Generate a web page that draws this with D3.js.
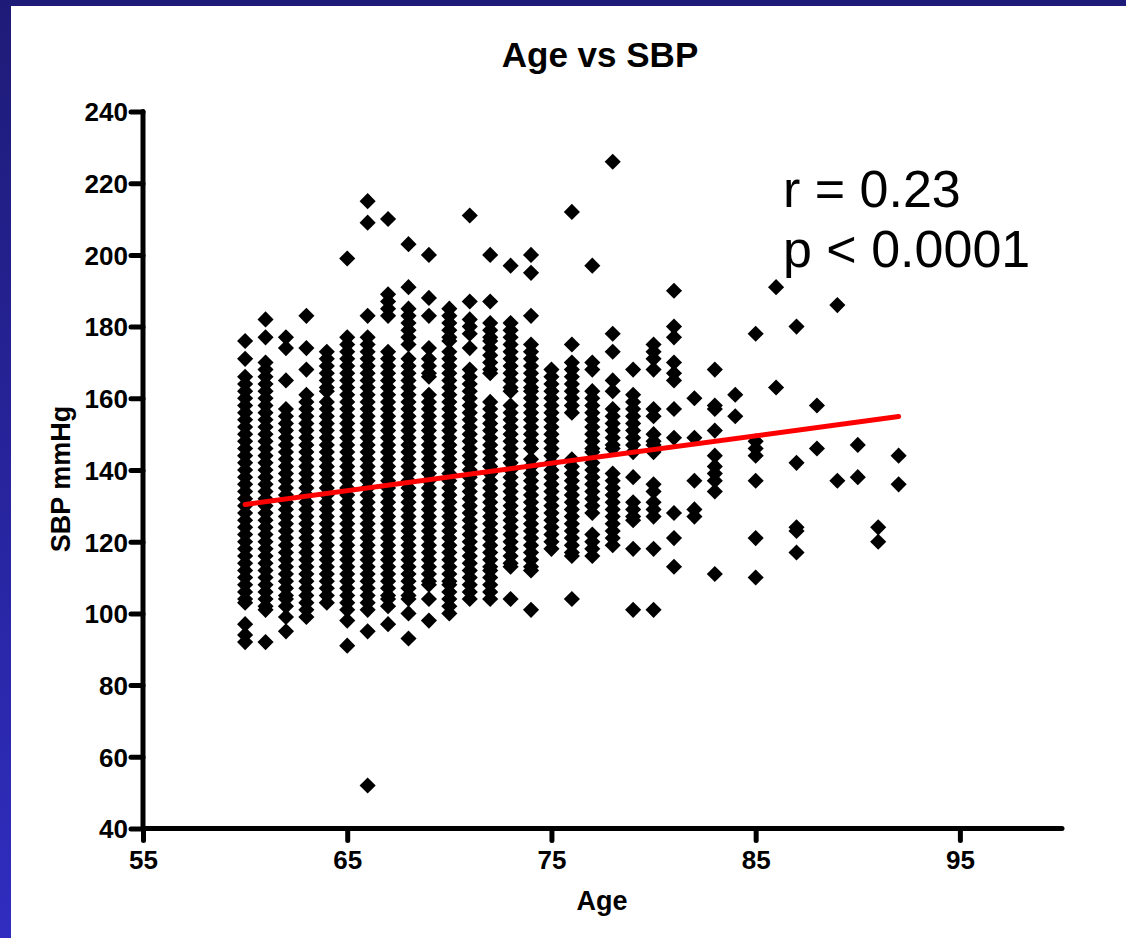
<!DOCTYPE html>
<html>
<head>
<meta charset="utf-8">
<script src="https://cdn.jsdelivr.net/npm/d3@7"></script>
<style>
  html, body { margin: 0; padding: 0; background: #fff; }
  svg { display: block; }
  text { font-family: "Liberation Sans", Arial, Helvetica, sans-serif; }
</style>
</head>
<body>
<svg id="chart" width="1126" height="938"></svg>
<script>
// Systolic blood pressure readings (mmHg) grouped by age in years
const ages = [60,61,62,63,64,65,66,67,68,69,70,71,72,73,74,75,76,77,78,79,80,81,82,83,84,85,86,87,88,89,90,91,92];

const sbpByAge = [
  /*60*/ [176,171,166,164,162,160,158,156,154,152,150,148,146,144,142,140,138,136,134,132,130,128,126,124,122,120,118,116,114,112,110,108,106,104,103,97,94,92],
  /*61*/ [182,177,170,168,166,164,162,160,158,156,154,152,150,148,146,144,142,140,138,136,134,132,130,128,126,124,122,120,118,116,114,112,110,108,106,104,102,101,92],
  /*62*/ [177,174,165,157,155,153,151,149,147,145,143,141,139,137,135,133,131,129,127,125,123,121,119,117,115,113,111,109,107,105,104,102,99,95],
  /*63*/ [183,174,168,161,159,157,155,153,151,149,147,145,143,141,139,137,135,133,131,129,127,125,123,121,119,117,115,113,111,109,107,105,103,101,99],
  /*64*/ [173,171,169,167,165,163,162,159,157,155,153,151,149,147,145,143,141,139,137,135,133,131,129,127,125,123,121,119,117,115,113,111,109,107,105,103],
  /*65*/ [199,177,175,173,171,169,167,165,163,161,159,157,155,153,151,149,147,145,143,141,139,137,135,133,131,129,127,125,123,121,119,117,115,113,111,109,107,105,103,101,98,91],
  /*66*/ [215,209,183,177,175,173,171,169,167,165,163,161,159,157,155,153,151,149,147,145,143,141,139,137,135,133,131,129,127,125,123,121,119,117,115,113,111,109,107,105,103,101,95,52],
  /*67*/ [210,189,187,185,183,173,171,169,167,165,163,161,159,157,155,153,151,149,147,145,143,141,139,137,135,133,131,129,127,125,123,121,119,117,115,113,111,109,107,105,104,102,97],
  /*68*/ [203,191,185,183,181,179,177,175,171,169,167,165,163,161,159,157,155,153,151,149,147,145,143,141,139,137,135,133,131,129,127,125,123,121,119,117,115,113,111,109,107,105,104,100,93],
  /*69*/ [200,188,183,174,171,169,167,166,161,159,157,155,153,151,149,147,145,143,141,139,137,135,133,131,129,127,125,123,121,119,117,115,113,111,109,108,104,98],
  /*70*/ [185,183,181,179,177,176,173,171,169,167,165,163,161,159,157,155,153,151,149,147,145,143,141,139,137,135,133,131,129,127,125,123,121,119,117,115,113,111,109,108,106,104,102,100],
  /*71*/ [211,187,182,180,178,174,168,166,164,162,160,158,156,154,152,150,148,146,144,142,140,138,136,134,132,130,128,126,124,122,120,118,116,114,112,110,108,106,104],
  /*72*/ [200,187,181,179,177,176,174,172,170,168,167,159,157,155,153,151,149,147,145,143,141,139,137,135,133,131,129,127,125,123,121,119,117,115,113,112,110,108,106,104],
  /*73*/ [197,181,179,177,175,173,171,169,167,165,163,162,158,156,154,152,150,148,146,144,142,140,138,136,134,132,130,128,126,124,122,120,118,116,114,113,104],
  /*74*/ [200,195,183,175,173,171,169,167,165,163,162,160,158,156,154,152,150,148,146,143,141,139,137,135,133,131,129,127,125,123,121,119,117,115,113,112,101],
  /*75*/ [168,166,164,162,160,158,156,154,152,150,148,146,144,142,140,138,136,134,132,130,128,126,124,122,120,118],
  /*76*/ [212,175,170,168,166,164,162,160,158,156,143,141,139,137,135,133,131,129,127,125,123,121,119,117,116,104],
  /*77*/ [197,170,168,162,160,158,156,154,152,150,148,146,145,142,140,138,136,134,132,130,128,122,120,118,116],
  /*78*/ [226,178,173,165,162,157,155,153,151,149,147,146,139,137,135,133,131,129,127,125,123,121,119],
  /*79*/ [168,161,159,157,155,153,151,149,147,145,138,131,129,127,126,118,101],
  /*80*/ [175,173,171,168,157,155,150,148,147,145,136,134,131,129,127,118,101],
  /*81*/ [190,180,177,170,167,165,157,149,128,121,113],
  /*82*/ [160,149,137,129,127],
  /*83*/ [168,158,157,151,144,141,139,137,134,111],
  /*84*/ [161,155],
  /*85*/ [178,148,146,144,137,121,110],
  /*86*/ [191,163],
  /*87*/ [180,142,124,123,117],
  /*88*/ [158,146],
  /*89*/ [186,137],
  /*90*/ [147,138],
  /*91*/ [124,120],
  /*92*/ [144,136]
];

// Linear regression of SBP on age, evaluated at the ends of the age range
const fitAges = [60, 92];
const fitSBP = [130.4, 154.9];

const xTicks = [55, 65, 75, 85, 95];
const yTicks = [40, 60, 80, 100, 120, 140, 160, 180, 200, 220, 240];

const titleText = "Age vs SBP";
const xLabel = "Age";
const yLabel = "SBP mmHg";
const statLines = ["r = 0.23", "p < 0.0001"];

// ---------------------------------------------------------------
const points = [];
ages.forEach((a, i) => sbpByAge[i].forEach(v => points.push({ age: a, sbp: v })));

const svg = d3.select("#chart");
const W = 1126, H = 938;

// blue slide frame behind the white panel
const defs = svg.append("defs");
const grad = defs.append("linearGradient")
  .attr("id", "frame").attr("x1", 0).attr("y1", 0).attr("x2", 0).attr("y2", 1);
grad.append("stop").attr("offset", "0%").attr("stop-color", "#1e1b78");
grad.append("stop").attr("offset", "100%").attr("stop-color", "#302dc0");
svg.append("rect").attr("width", W).attr("height", H).attr("fill", "url(#frame)");
svg.append("rect").attr("x", 11).attr("y", 6).attr("width", W - 11).attr("height", H - 6).attr("fill", "#fff");

const x = d3.scaleLinear().domain([55, 100]).range([143, 1062]);
const y = d3.scaleLinear().domain([40, 240]).range([828.5, 111.5]);

// scatter markers: squares turned 45 degrees
const diamond = d3.symbol().type(d3.symbolSquare).size(130);
svg.append("g")
  .selectAll("path")
  .data(points)
  .join("path")
  .attr("d", diamond)
  .attr("transform", d => `translate(${x(d.age)},${y(d.sbp)}) rotate(45)`)
  .attr("fill", "#000");

// regression line
svg.append("path")
  .datum(fitAges.map((a, i) => [a, fitSBP[i]]))
  .attr("d", d3.line().x(d => x(d[0])).y(d => y(d[1])))
  .attr("fill", "none")
  .attr("stroke", "#ff0000")
  .attr("stroke-width", 5)
  .attr("stroke-linecap", "round");

// axes
function styleAxis(g) {
  g.select(".domain").attr("stroke", "#000").attr("stroke-width", 5).attr("stroke-linecap", "round");
  g.selectAll(".tick line").attr("stroke", "#000").attr("stroke-width", 5).attr("stroke-linecap", "round");
  g.selectAll(".tick text")
    .attr("fill", "#000")
    .style("font-family", '"Liberation Sans", Arial, sans-serif')
    .style("font-size", "26px")
    .style("font-weight", "bold");
}

const yAxis = svg.append("g")
  .attr("transform", `translate(${x(55)},0)`)
  .call(d3.axisLeft(y).tickValues(yTicks).tickSize(12).tickSizeOuter(0).tickPadding(3).tickFormat(d3.format("d")));
styleAxis(yAxis);
yAxis.selectAll(".tick text").attr("dy", "0.36em");

const xAxis = svg.append("g")
  .attr("transform", `translate(0,${y(40)})`)
  .call(d3.axisBottom(x).tickValues(xTicks).tickSize(12).tickSizeOuter(0).tickPadding(10).tickFormat(d3.format("d")));
styleAxis(xAxis);
xAxis.select(".domain").attr("d", `M${x(55)},0H${x(100)}`);
yAxis.select(".domain").attr("d", `M0,${y(240)}V${y(40)}`);

// titles
svg.append("text")
  .attr("x", 600).attr("y", 67)
  .attr("text-anchor", "middle")
  .style("font-size", "35px").style("font-weight", "bold")
  .text(titleText);

svg.append("text")
  .attr("x", 602).attr("y", 910)
  .attr("text-anchor", "middle")
  .style("font-size", "27px").style("font-weight", "bold")
  .text(xLabel);

svg.append("text")
  .attr("transform", "translate(70,479) rotate(-90)")
  .attr("text-anchor", "middle")
  .style("font-size", "27px").style("font-weight", "bold")
  .text(yLabel);

// correlation statistics
svg.append("g").selectAll("text")
  .data(statLines)
  .join("text")
  .attr("x", 783)
  .attr("y", (d, i) => 207 + i * 60)
  .style("font-size", "52px")
  .text(d => d);
</script>
</body>
</html>
